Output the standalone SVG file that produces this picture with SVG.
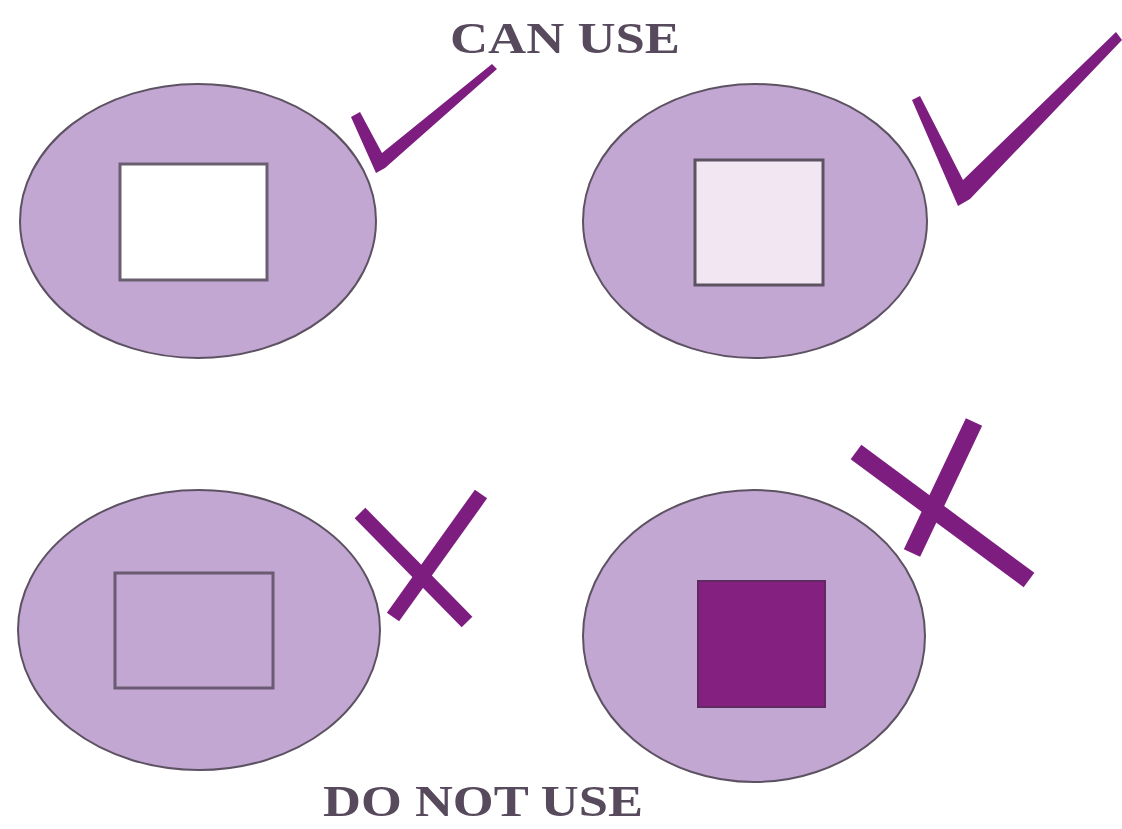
<svg xmlns="http://www.w3.org/2000/svg" width="1122" height="829" viewBox="0 0 1122 829">
<style>
.oval{fill:#c3a7d3;stroke:#5d5262;stroke-width:2}
.mark{fill:#7c1d7f}
.xs{stroke:#7c1d7f;stroke-linecap:butt}
.lbl{font-family:"Liberation Serif",serif;font-weight:bold;fill:#574a5c}
</style>
<rect width="1122" height="829" fill="#ffffff"/>
<g id="label-can"><text class="lbl" x="450" y="53" font-size="44" textLength="230" lengthAdjust="spacingAndGlyphs">CAN USE</text></g>
<g id="node1">
<ellipse class="oval" cx="198" cy="221" rx="178" ry="137"/>
<rect x="120" y="164" width="147" height="116" fill="#ffffff" stroke="#6a5f70" stroke-width="3"/>
<polygon class="mark" points="351,117 360,112 382,153 492,64 497,69 385,168 376,173"/>
</g>
<g id="node2">
<ellipse class="oval" cx="755" cy="221" rx="172" ry="137"/>
<rect x="695" y="160" width="128" height="125" fill="#f2e6f3" stroke="#5d5262" stroke-width="3"/>
<polygon class="mark" points="912,100 920,96 963,180 1116,32 1122,40 970,199 958,206"/>
</g>
<g id="node3">
<ellipse class="oval" cx="199" cy="630" rx="181" ry="140"/>
<rect x="115" y="573" width="158" height="115" fill="none" stroke="#6a5a72" stroke-width="3"/>
<line class="xs" x1="360" y1="513" x2="467" y2="622" stroke-width="15"/>
<line class="xs" x1="481" y1="494" x2="393" y2="617" stroke-width="15"/>
</g>
<g id="node4">
<ellipse class="oval" cx="754" cy="636" rx="171" ry="146"/>
<rect x="698" y="581" width="127" height="126" fill="#84207f" stroke="#5e2a5f" stroke-width="2"/>
<line class="xs" x1="856" y1="452" x2="1029" y2="580" stroke-width="18"/>
<line class="xs" x1="974" y1="422" x2="912" y2="553" stroke-width="18"/>
</g>
<g id="label-donot"><text class="lbl" x="323" y="816" font-size="44" textLength="320" lengthAdjust="spacingAndGlyphs">DO NOT USE</text></g>
<g id="connectors"></g>
</svg>
